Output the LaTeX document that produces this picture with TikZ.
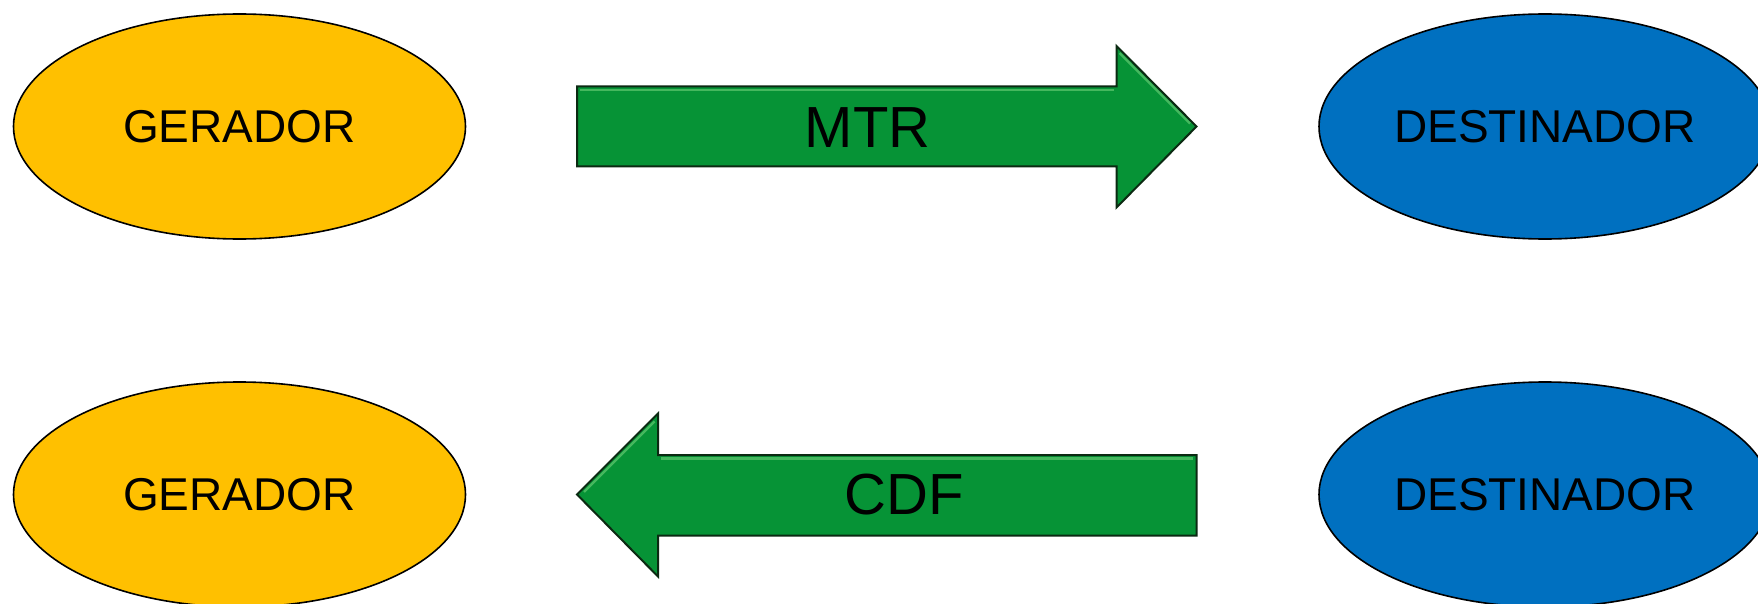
\documentclass[tikz,border=0pt]{standalone}
\usepackage{fontspec}
\setmainfont{Liberation Sans}
\usetikzlibrary{shapes.geometric}
\definecolor{gerfill}{HTML}{FFC000}
\definecolor{destfill}{HTML}{0070C0}
\definecolor{arrfill}{HTML}{069336}
\definecolor{arrlight}{HTML}{45B85E}
\definecolor{arrdark}{HTML}{0B2A12}
\tikzset{
  oval/.style={ellipse, draw=black, line width=1.6pt, minimum width=452pt, minimum height=225pt, inner sep=0pt, font=\fontsize{46}{50}\selectfont},
  gerbox/.style={oval, fill=gerfill},
  destbox/.style={oval, fill=destfill},
  arrowbody/.style={fill=arrfill, draw=arrdark, line width=2pt, line join=miter},
  arrowhi/.style={draw=arrlight, line width=2.2pt},
  arrowtext/.style={font=\fontsize{58}{62}\selectfont, inner sep=0pt}
}
\begin{document}
\begin{tikzpicture}[x=1pt,y=-1pt]
\useasboundingbox (0,0) rectangle (1758,604);
\clip (0,0) rectangle (1758,604);
% ellipses
\node[gerbox] (g1) at (239.5,126.5) {GERADOR};
\node[destbox] (d1) at (1545,126.5) {DESTINADOR};
\node[gerbox] (g2) at (239.5,494.5) {GERADOR};
\node[destbox] (d2) at (1545,494.5) {DESTINADOR};
% MTR arrow (right)
\path[arrowbody] (577,86.5) -- (1116.5,86.5) -- (1116.5,46) -- (1196.5,126.5) -- (1116.5,207.5) -- (1116.5,166.5) -- (577,166.5) -- cycle;
\draw[arrowhi] (580,90) -- (1114,90);
\draw[arrowhi] (1119.5,53) -- (1190,123.5);
\node[arrowtext] (mtr) at (867.5,127.5) {MTR};
% CDF arrow (left)
\path[arrowbody] (1196.5,455) -- (658,455) -- (658,413.5) -- (577,494.5) -- (658,576.5) -- (658,535.5) -- (1196.5,535.5) -- cycle;
\draw[arrowhi] (1193,458.5) -- (660.5,458.5);
\draw[arrowhi] (654.5,421.5) -- (584,492);
\node[arrowtext] (cdf) at (904,495) {CDF};
\end{tikzpicture}
\end{document}
